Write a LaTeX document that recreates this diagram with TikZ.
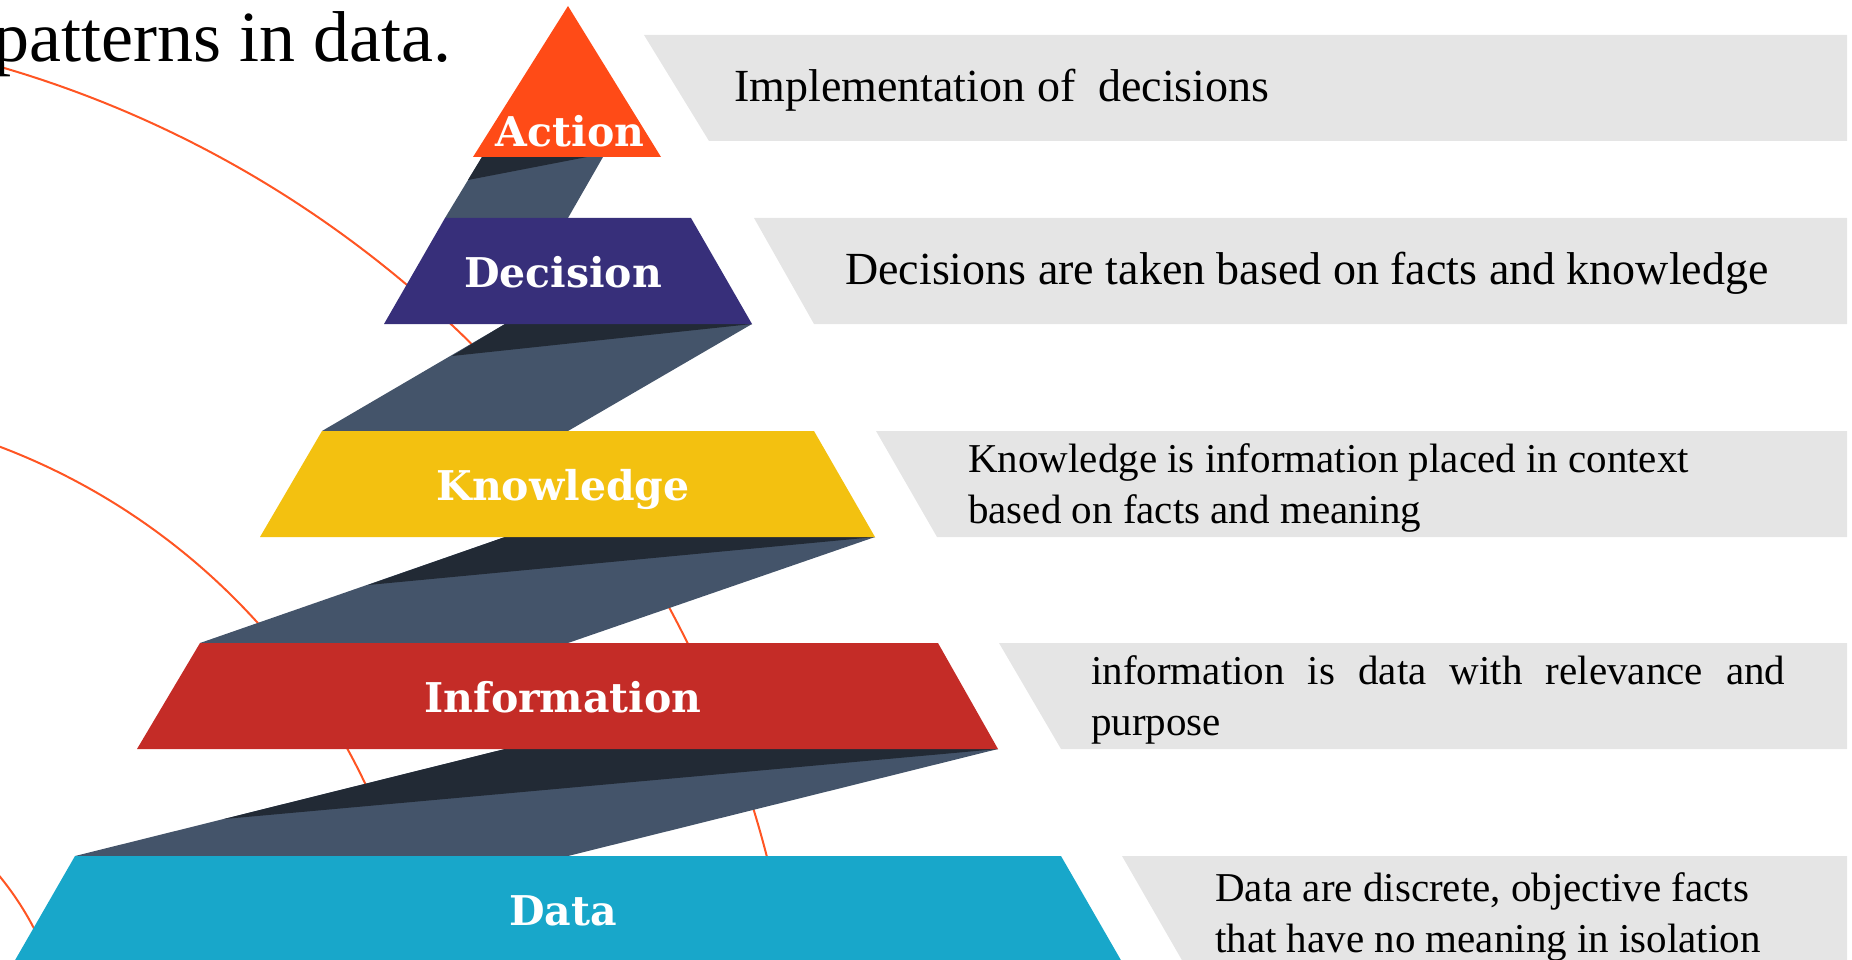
\documentclass[tikz,border=0pt]{standalone}
\usepackage{fontspec}
\setmainfont{Liberation Serif}
\newfontfamily\tierfont{DejaVu Serif}
\definecolor{myaction}{RGB}{255,75,23}
\definecolor{mydecision}{RGB}{55,47,122}
\definecolor{myknowledge}{RGB}{243,193,16}
\definecolor{myinformation}{RGB}{196,44,39}
\definecolor{mydata}{RGB}{24,167,202}
\definecolor{myslate}{RGB}{68,84,106}
\definecolor{myshade}{RGB}{34,42,53}
\definecolor{mygrey}{RGB}{229,229,229}
\definecolor{myarc}{RGB}{255,85,35}
\newcommand{\tiersize}{\fontsize{41}{41}\selectfont}
\newcommand{\notesize}{\fontsize{41}{51}\selectfont}
\newcommand{\bigsize}{\fontsize{46}{52}\selectfont}
\newcommand{\bandend}{1847}
\newcommand{\widthinfo}{694pt}
\tikzset{
    tier/.style={anchor=base, inner sep=0pt, text=white, font=\tierfont\bfseries\tiersize},
    note/.style={anchor=base west, inner sep=0pt, align=left, font=\notesize},
    bignote/.style={note, font=\bigsize},
    band/.style={fill=mygrey},
    ring/.style={draw=myarc, line width=2pt},
    ramp/.style={fill=myslate},
    shade/.style={fill=myshade}
}
\begin{document}
\begin{tikzpicture}[x=1pt, y=-1pt]
            \useasboundingbox (0,0) rectangle (1852,960);
            \clip (0,0) rectangle (1852,960);

            % rings behind the pyramid
            \draw[ring] (-310,1135) circle[radius=1112pt];
            \draw[ring] (-235,1068) circle[radius=664pt];
            \draw[ring] (-235,1068) circle[radius=303pt];

            \node[anchor=base east, inner sep=0pt, font=\fontsize{72}{72}\selectfont] (title) at (452,62) {patterns in data.};

            % grey bands
            \fill[band] (644,35) -- (\bandend,35) -- (\bandend,141) -- (709,141) -- cycle;
            \fill[band] (754,218) -- (\bandend,218) -- (\bandend,324) -- (814,324) -- cycle;
            \fill[band] (876,431) -- (\bandend,431) -- (\bandend,537) -- (937,537) -- cycle;
            \fill[band] (999,643) -- (\bandend,643) -- (\bandend,749) -- (1061,749) -- cycle;
            \fill[band] (1122,856) -- (\bandend,856) -- (\bandend,962) -- (1183,962) -- cycle;

            % ramps between tiers
            \fill[ramp] (482,157) -- (603,157) -- (568,218) -- (445,218) -- cycle;
            \fill[shade] (482,157) -- (587,157) -- (468,180) -- cycle;
            \fill[ramp] (505,324) -- (752,324) -- (568,431) -- (322,431) -- cycle;
            \fill[shade] (505,324) -- (752,324) -- (452,356) -- cycle;
            \fill[ramp] (505,537) -- (875,537) -- (568,643) -- (200,643) -- cycle;
            \fill[shade] (505,537) -- (875,537) -- (368,585) -- cycle;
            \fill[ramp] (505,749) -- (998,749) -- (568,856) -- (75,856) -- cycle;
            \fill[shade] (505,749) -- (998,749) -- (224,819) -- cycle;

            % tiers
            \fill[myaction] (568,6) -- (661,157) -- (473,157) -- cycle;
            \fill[mydecision] (445,218) -- (691,218) -- (752,324) -- (384,324) -- cycle;
            \fill[myknowledge] (322,431) -- (814,431) -- (875,537) -- (260,537) -- cycle;
            \fill[myinformation] (200,643) -- (938,643) -- (998,749) -- (137,749) -- cycle;
            \fill[mydata] (75,856) -- (1061,856) -- (1122,962) -- (14,962) -- cycle;

            \path
                (570,147) node[tier] (action) {Action}
                (563,287) node[tier] (decision) {Decision}
                (563,500) node[tier] (knowledge) {Knowledge}
                (563,712) node[tier] (information) {Information}
                (563,925) node[tier] (data) {Data};

            % multi-line notes sit on their last baseline
            \node[bignote] (actionnote) at (734,102) {Implementation of~ decisions};
            \node[bignote] (decisionnote) at (845,284) {Decisions are taken based on facts and knowledge};
            \node[note] (knowledgenote) at (968,523) {Knowledge is information placed in context\\based on facts and meaning};
            \node[note] (informationnote) at (1091,735) {\makebox[\widthinfo][s]{information is data with relevance and}\\purpose};
            \node[note] (datanote) at (1215,952) {Data are discrete, objective facts\\that have no meaning in isolation};
        \end{tikzpicture}
\end{document}
